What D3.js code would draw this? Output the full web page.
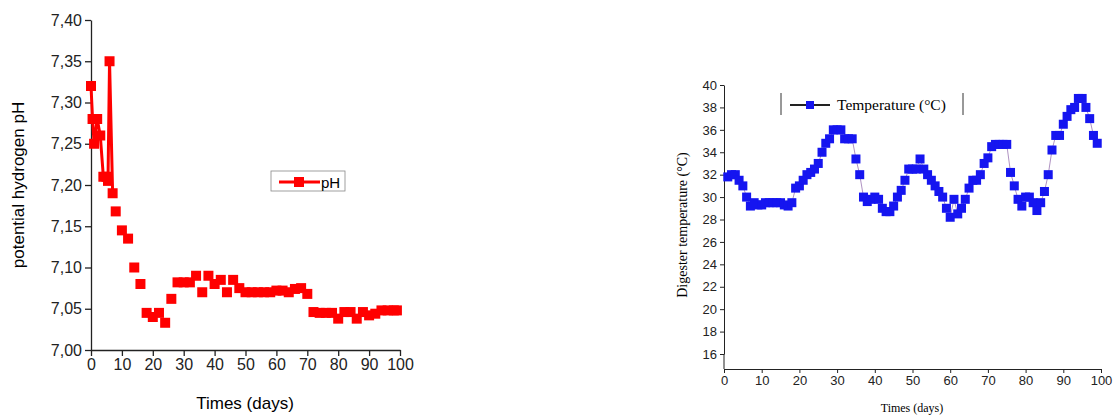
<!DOCTYPE html><html><head><meta charset="utf-8"><script src="https://d3js.org/d3.v7.min.js"></script>
<style>body{margin:0;background:#fff}</style></head><body><svg width="1117" height="417"></svg><script>
const phDays=[0,0.5,1,2,3,4,5,5.5,6,7,8,10,12,14,16,18,20,22,24,26,28,30,32,34,36,38,40,42,44,46,48,50,52,54,56,58,60,62,64,66,68,70,72,74,76,78,80,82,84,86,88,90,92,94,96,98,99];
const phVals=[7.32,7.28,7.25,7.28,7.26,7.21,7.21,7.205,7.35,7.19,7.168,7.145,7.135,7.10,7.08,7.045,7.04,7.045,7.033,7.062,7.082,7.082,7.082,7.09,7.07,7.09,7.08,7.085,7.07,7.085,7.075,7.07,7.07,7.07,7.07,7.07,7.072,7.072,7.07,7.074,7.075,7.068,7.046,7.045,7.045,7.045,7.038,7.046,7.046,7.038,7.046,7.042,7.044,7.048,7.048,7.048,7.048];
const phTicks=[7.00,7.05,7.10,7.15,7.20,7.25,7.30,7.35,7.40];
const tDays=[];for(let d=1;d<=99;d++)tDays.push(d);
const tVals=[31.8,32,32,31.5,31,30,29.2,29.5,29.3,29.3,29.5,29.5,29.5,29.5,29.5,29.3,29.2,29.5,30.8,31,31.5,32,32.2,32.5,33,34,34.8,35.2,36,36,36,35.2,35.2,35.2,33.4,32,30,29.6,29.8,30,29.8,29,28.7,28.7,29.2,30,30.6,31.5,32.5,32.5,32.5,33.4,32.5,32,31.5,31,30.5,30,29,28.2,29.8,28.5,29,29.8,30.8,31.5,31.5,32,33,33.5,34.5,34.7,34.7,34.7,34.7,32.2,31,29.8,29.2,30,30,29.5,28.8,29.5,30.5,32,34.2,35.5,35.5,36.5,37.2,37.8,38,38.8,38.8,38,37,35.5,34.8];
const tTicks=[16,18,20,22,24,26,28,30,32,34,36,38,40];
const xTicks=[0,10,20,30,40,50,60,70,80,90,100];
const svg=d3.select("svg");
const x1=d3.scaleLinear([0,100],[91,400]),y1=d3.scaleLinear([7.0,7.4],[350,20]);
const g1=svg.append("g").style("font-family","Liberation Sans, Arial");
g1.append("g").attr("transform","translate(0,350)").call(d3.axisBottom(x1).tickValues(xTicks).tickSize(6).tickSizeOuter(0)).call(a=>a.selectAll("text").attr("font-size",16).attr("fill","#222"));
g1.append("g").attr("transform","translate(91,0)").call(d3.axisLeft(y1).tickValues(phTicks).tickFormat(d=>d3.format(".2f")(d).replace(".",",")).tickSize(6).tickSizeOuter(0)).call(a=>a.selectAll("text").attr("font-size",16).attr("fill","#222"));
g1.selectAll(".domain,.tick line").attr("stroke","#222").attr("stroke-width",1.3);
g1.append("text").attr("x",245).attr("y",409).attr("text-anchor","middle").attr("font-size",17).text("Times (days)");
g1.append("text").attr("transform","translate(24,185)rotate(-90)").attr("text-anchor","middle").attr("font-size",17).text("potential hydrogen pH");
const early=phDays.map((d,i)=>[d,phVals[i]]).filter(p=>p[0]<=7);
g1.append("path").datum(early).attr("fill","none").attr("stroke","#f00").attr("stroke-width",3).attr("d",d3.line(d=>x1(d[0]),d=>y1(d[1])));
g1.selectAll("rect.p").data(phDays).join("rect").attr("x",(d)=>x1(d)-5).attr("y",(d,i)=>y1(phVals[i])-5).attr("width",10).attr("height",10).attr("fill","#f00");
g1.append("rect").attr("x",271).attr("y",171).attr("width",74).attr("height",20).attr("fill","none").attr("stroke","#888").attr("stroke-width",0.8);
g1.append("line").attr("x1",279).attr("x2",320).attr("y1",182).attr("y2",182).attr("stroke","#f00").attr("stroke-width",3);
g1.append("rect").attr("x",294).attr("y",177).attr("width",10).attr("height",10).attr("fill","#f00");
g1.append("text").attr("x",321).attr("y",188).attr("font-size",15).text("pH");
const x2=d3.scaleLinear([0,100],[724,1101]),y2=d3.scaleLinear([16,40],[354,85]);
const g2=svg.append("g").style("font-family","Liberation Serif, Times New Roman");
g2.append("g").attr("transform","translate(0,369)").call(d3.axisBottom(x2).tickValues(xTicks).tickSize(4).tickSizeOuter(0)).call(a=>a.selectAll("text").attr("font-size",13).attr("fill","#222"));
g2.append("g").attr("transform","translate(724,0)").call(d3.axisLeft(y2).tickValues(tTicks).tickSize(4).tickSizeOuter(0)).call(a=>a.selectAll("text").attr("font-size",13).attr("fill","#222"));
g2.append("line").attr("x1",724).attr("x2",724).attr("y1",354).attr("y2",369).attr("stroke","#222");
g2.selectAll(".domain,.tick line").attr("stroke","#222");
g2.append("text").attr("x",912).attr("y",412).attr("text-anchor","middle").attr("font-size",12).text("Times (days)");
g2.append("text").attr("transform","translate(687,225)rotate(-90)").attr("text-anchor","middle").attr("font-size",14).text("Digester temperature (°C)");
g2.append("path").datum(tDays.map((d,i)=>[d,tVals[i]])).attr("fill","none").attr("stroke","#7a4a9a").attr("stroke-width",1).attr("stroke-opacity",0.6).attr("d",d3.line(d=>x2(d[0]),d=>y2(d[1])));
g2.selectAll("rect.t").data(tDays).join("rect").attr("x",d=>x2(d)-4.5).attr("y",(d,i)=>y2(tVals[i])-4.5).attr("width",9).attr("height",9).attr("fill","#1515f0");
g2.append("line").attr("x1",781).attr("x2",781).attr("y1",93).attr("y2",115).attr("stroke","#333");
g2.append("line").attr("x1",963).attr("x2",963).attr("y1",93).attr("y2",115).attr("stroke","#333");
g2.append("line").attr("x1",790).attr("x2",830).attr("y1",105).attr("y2",105).attr("stroke","#222").attr("stroke-width",2);
g2.append("rect").attr("x",806).attr("y",101).attr("width",8).attr("height",8).attr("fill","#1515f0");
g2.append("text").attr("x",837).attr("y",110).attr("font-size",15.5).text("Temperature (°C)");
</script></body></html>
